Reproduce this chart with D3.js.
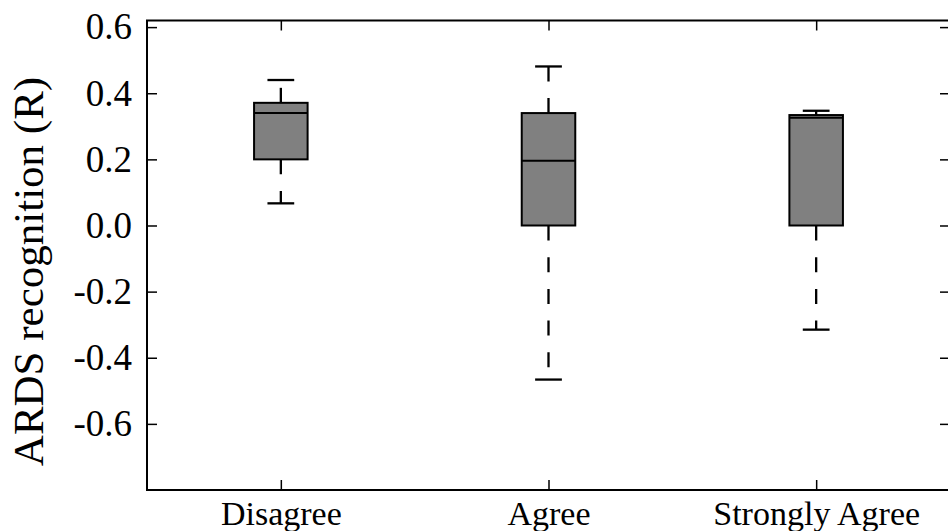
<!DOCTYPE html>
<html>
<head>
<meta charset="utf-8">
<script src="https://cdn.jsdelivr.net/npm/d3@7"></script>
<style>
  html, body { margin: 0; padding: 0; background: #fff; }
  svg text { font-family: "Liberation Serif", "Times New Roman", serif; fill: #000; }
</style>
</head>
<body>
<div id="chart"></div>
<script>
// categories and box statistics
var categories = ["Disagree", "Agree", "Strongly Agree"];
var whiskerLow  = [0.067, -0.466, -0.315];
var boxLow      = [0.20, 0.0, 0.0];
var medians     = [0.340, 0.196, 0.326];
var boxHigh     = [0.371, 0.340, 0.334];
var whiskerHigh = [0.440, 0.481, 0.347];
var yTicks = [0.6, 0.4, 0.2, 0.0, -0.2, -0.4, -0.6];

var W = 948, H = 531;
var margin = { top: 20.5, right: -2, bottom: 41, left: 147 };
var width = W - margin.left - margin.right,
    height = H - margin.top - margin.bottom;

var svg = d3.select("#chart").append("svg")
    .attr("width", W)
    .attr("height", H);

var g = svg.append("g")
    .attr("transform", "translate(" + margin.left + "," + margin.top + ")");

var x = d3.scaleLinear().domain([0.5, 3.5]).range([0, width]);
var y = d3.scaleLinear().domain([-0.8, 0.62]).range([height, 0]);

var data = categories.map(function(c, i) {
    return { name: c, pos: i + 1, lo: whiskerLow[i], q1: boxLow[i], med: medians[i], q3: boxHigh[i], hi: whiskerHigh[i] };
});

var boxW = x(1.2) - x(1);
var capW = boxW / 2;

// whiskers (dashed, from box edge outward)
var wh = g.append("g");
data.forEach(function(d) {
    wh.append("line")
        .attr("x1", x(d.pos)).attr("x2", x(d.pos))
        .attr("y1", y(d.q3)).attr("y2", y(d.hi))
        .attr("stroke", "#000").attr("stroke-width", 2.3)
        .attr("stroke-dasharray", "15,16.7");
    wh.append("line")
        .attr("x1", x(d.pos)).attr("x2", x(d.pos))
        .attr("y1", y(d.q1)).attr("y2", y(d.lo))
        .attr("stroke", "#000").attr("stroke-width", 2.3)
        .attr("stroke-dasharray", "15,16.7");
    [d.hi, d.lo].forEach(function(v) {
        wh.append("line")
            .attr("x1", x(d.pos) - capW / 2).attr("x2", x(d.pos) + capW / 2)
            .attr("y1", y(v)).attr("y2", y(v))
            .attr("stroke", "#000").attr("stroke-width", 2.3);
    });
});

// boxes
g.selectAll(".box")
    .data(data)
    .enter().append("rect")
    .attr("class", "box")
    .attr("x", function(d) { return x(d.pos) - boxW / 2; })
    .attr("width", boxW)
    .attr("y", function(d) { return y(d.q3); })
    .attr("height", function(d) { return y(d.q1) - y(d.q3); })
    .attr("fill", "#808080")
    .attr("stroke", "#000")
    .attr("stroke-width", 2);

g.selectAll(".median")
    .data(data)
    .enter().append("line")
    .attr("class", "median")
    .attr("x1", function(d) { return x(d.pos) - boxW / 2; })
    .attr("x2", function(d) { return x(d.pos) + boxW / 2; })
    .attr("y1", function(d) { return y(d.med); })
    .attr("y2", function(d) { return y(d.med); })
    .attr("stroke", "#000")
    .attr("stroke-width", 2);

// axes: inward ticks on all four sides
var tickLen = 10;
var fmt = function(d) { return d3.format(".1f")(d).replace("\u2212", "-"); };
var yAxis = d3.axisLeft(y).tickValues(yTicks).tickSize(-tickLen).tickPadding(15).tickFormat(fmt);
var yAxisR = d3.axisRight(y).tickValues(yTicks).tickSize(-tickLen).tickFormat("");
var xAxis = d3.axisBottom(x).tickValues([1, 2, 3]).tickSize(-tickLen)
    .tickFormat(function(d) { return categories[d - 1]; });
var xAxisT = d3.axisTop(x).tickValues([1, 2, 3]).tickSize(-tickLen).tickFormat("");

function style(sel, size) {
    sel.select(".domain").remove();
    sel.selectAll(".tick line").attr("stroke", "#000").attr("stroke-width", 1.5);
    sel.selectAll(".tick text")
        .style("font-family", '"Liberation Serif", "Times New Roman", serif')
        .style("font-size", size + "px")
        .attr("fill", "#000");
}

g.append("g").attr("class", "y axis").call(yAxis).call(style, 37);
g.append("g").attr("class", "y axis right").attr("transform", "translate(" + width + ",0)").call(yAxisR).call(style, 34);
g.append("g").attr("class", "x axis").attr("transform", "translate(0," + height + ")").call(xAxis).call(style, 34);
g.selectAll(".x.axis .tick text").attr("y", 35).attr("dy", 0);
g.append("g").attr("class", "x axis top").call(xAxisT).call(style, 34);

// frame
g.append("rect")
    .attr("width", width).attr("height", height)
    .attr("fill", "none").attr("stroke", "#000").attr("stroke-width", 2);

// y label
svg.append("text")
    .attr("transform", "translate(43," + (margin.top + 251) + ") rotate(-90)")
    .style("text-anchor", "middle")
    .style("font-size", "43px")
    .text("ARDS recognition (R)");
</script>
</body>
</html>
